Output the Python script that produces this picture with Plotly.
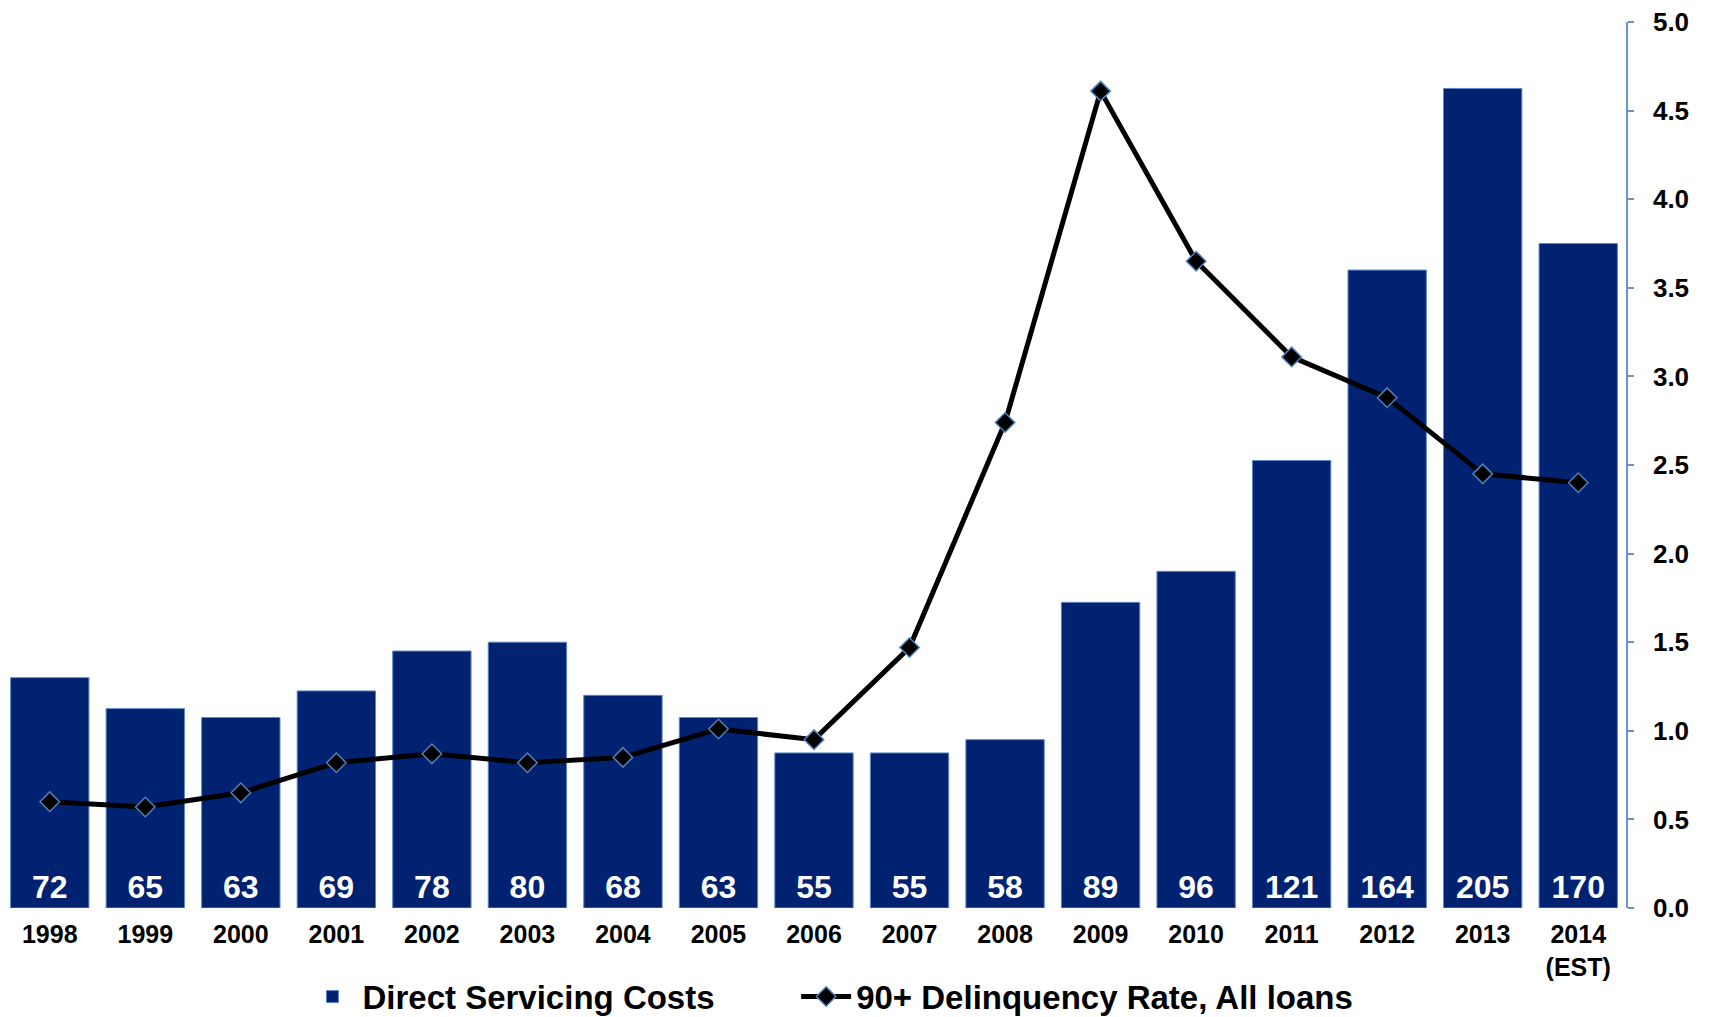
import plotly.graph_objects as go

years = ["1998", "1999", "2000", "2001", "2002", "2003", "2004", "2005", "2006",
         "2007", "2008", "2009", "2010", "2011", "2012", "2013", "2014<br>(EST)"]
servicing_costs = [72, 65, 63, 69, 78, 80, 68, 63, 55, 55, 58, 89, 96, 121, 164, 205, 170]
delinquency_rate = [0.60, 0.57, 0.65, 0.82, 0.87, 0.82, 0.85, 1.01, 0.95, 1.47, 2.74,
                    4.61, 3.65, 3.11, 2.88, 2.45, 2.40]
cost_axis_min = 20
cost_axis_max = 220
rate_ticks = [0.0, 0.5, 1.0, 1.5, 2.0, 2.5, 3.0, 3.5, 4.0, 4.5, 5.0]

FONT = "Liberation Sans, Arial, sans-serif"
NAVY = "#002270"
EDGE = "#5B87C5"

fig = go.Figure()
fig.add_trace(go.Bar(
    x=years,
    y=[v - cost_axis_min for v in servicing_costs],
    base=cost_axis_min,
    text=[str(v) for v in servicing_costs],
    textposition="inside",
    insidetextanchor="start",
    textangle=0,
    insidetextfont=dict(family=FONT, size=32, color="white", weight=700),
    marker=dict(color=NAVY, line=dict(color=EDGE, width=1)),
    name="Direct Servicing Costs",
    yaxis="y",
    legend="legend",
))
fig.add_trace(go.Scatter(
    x=years,
    y=delinquency_rate,
    mode="lines+markers",
    line=dict(color="black", width=5),
    marker=dict(symbol="diamond", size=15, color="black",
                line=dict(color="#4F81BD", width=1.5)),
    name="90+ Delinquency Rate, All loans",
    yaxis="y2",
    legend="legend2",
))

legend_common = dict(
    orientation="h", xanchor="left", y=-0.1, yanchor="middle",
    font=dict(family=FONT, size=33, color="black", weight=700),
    itemwidth=50, bgcolor="rgba(0,0,0,0)",
)

fig.update_layout(
    width=1709, height=1017,
    margin=dict(l=2, r=83, t=22, b=109, autoexpand=False),
    paper_bgcolor="white", plot_bgcolor="white",
    bargap=0.18,
    font=dict(family=FONT, color="black"),
    xaxis=dict(
        type="category", range=[-0.5, len(years) - 0.5],
        showgrid=False, showline=False, ticks="",
        tickfont=dict(family=FONT, size=25, color="black", weight=700),
        ticklabelstandoff=9,
    ),
    yaxis=dict(range=[cost_axis_min, cost_axis_max], visible=False, showgrid=False),
    yaxis2=dict(
        overlaying="y", side="right", range=[0, 5],
        tickvals=rate_ticks, tickformat=".1f",
        showgrid=False, zeroline=False,
        showline=True, linecolor="#6A93CC", linewidth=1.5,
        ticks="outside", ticklen=6, tickcolor="#6A93CC", tickwidth=1.5,
        tickfont=dict(family=FONT, size=26, color="black", weight=700),
        ticklabelstandoff=14,
    ),
    showlegend=True,
    legend=dict(x=0.185, **legend_common),
    legend2=dict(x=0.489, **legend_common),
)

fig.write_html("out.html")
